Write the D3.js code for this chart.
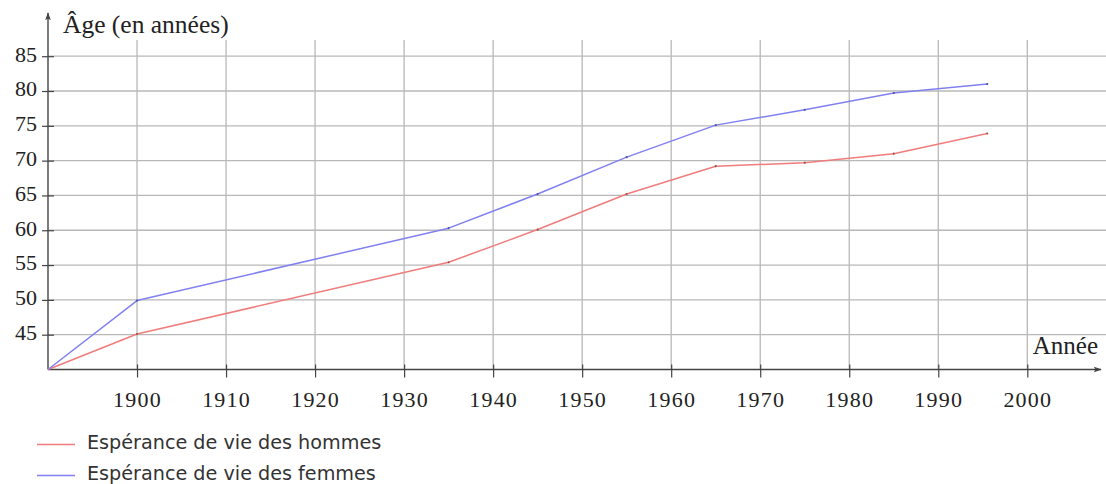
<!DOCTYPE html>
<html>
<head>
<meta charset="utf-8">
<script src="https://cdn.jsdelivr.net/npm/d3@7"></script>
<style>
  html, body { margin: 0; padding: 0; background: #fff; }
  svg { display: block; }
</style>
</head>
<body>
<svg id="chart" width="1106" height="484"></svg>
<script>
// ---- data ----
const years      = [1890, 1900, 1935, 1945, 1955, 1965, 1975, 1985, 1995.5];
const menLife    = [40, 45.1, 55.4, 60.1, 65.2, 69.2, 69.7, 71.0, 73.9];
const womenLife  = [40, 49.9, 60.3, 65.2, 70.5, 75.1, 77.3, 79.7, 81.0];
const xTickYears = [1900, 1910, 1920, 1930, 1940, 1950, 1960, 1970, 1980, 1990, 2000];
const yTickAges  = [45, 50, 55, 60, 65, 70, 75, 80, 85];
const seriesNames = ["Espérance de vie des hommes", "Espérance de vie des femmes"];
const seriesColors = ["#f07c7c", "#8080f2"];

const svg = d3.select("#chart");
const x = d3.scaleLinear().domain([1890, 2000]).range([48, 1027.3]);
const y = d3.scaleLinear().domain([40, 85]).range([369.5, 56.2]);

const gridColor = "#b8b8b8";
const axisColor = "#444";

// horizontal gridlines
svg.append("g").selectAll("line").data(yTickAges).join("line")
  .attr("x1", x(1890)).attr("x2", 1106)
  .attr("y1", d => y(d)).attr("y2", d => y(d))
  .attr("stroke", gridColor).attr("stroke-width", 1.3);

// vertical gridlines
svg.append("g").selectAll("line").data(xTickYears).join("line")
  .attr("x1", d => x(d)).attr("x2", d => x(d))
  .attr("y1", 40).attr("y2", y(40))
  .attr("stroke", gridColor).attr("stroke-width", 1.3);

// y axis with ticks
const yAxis = d3.axisLeft(y).tickValues(yTickAges).tickSize(6).tickSizeOuter(0).tickPadding(5);
const gy = svg.append("g").attr("transform", `translate(${x(1890)},0)`).call(yAxis);
gy.select(".domain").remove();
gy.selectAll(".tick line").attr("stroke", axisColor).attr("stroke-width", 1.2).attr("x2", 6).attr("x1", -6);
gy.selectAll(".tick text")
  .attr("x", -11)
  .attr("dy", "0.22em")
  .style("font-family", "'Liberation Serif', 'DejaVu Serif', serif")
  .style("font-size", "22px")
  .attr("fill", "#222");

// x axis with ticks
const xAxis = d3.axisBottom(x).tickValues(xTickYears).tickFormat(d3.format("d")).tickSize(8).tickSizeOuter(0).tickPadding(10);
const gx = svg.append("g").attr("transform", `translate(0,${y(40)})`).call(xAxis);
gx.select(".domain").remove();
gx.selectAll(".tick line").attr("stroke", axisColor).attr("stroke-width", 1.2).attr("y1", -5).attr("y2", 8);
gx.selectAll(".tick text")
  .attr("y", 22)
  .style("font-family", "'Liberation Serif', 'DejaVu Serif', serif")
  .style("font-size", "22px")
  .style("letter-spacing", "1.2px")
  .attr("fill", "#222");

// axis lines with arrows
const defs = svg.append("defs");
defs.append("marker").attr("id", "arrow").attr("viewBox", "0 0 10 10")
  .attr("refX", 9).attr("refY", 5).attr("markerWidth", 8).attr("markerHeight", 8)
  .attr("markerUnits", "userSpaceOnUse").attr("orient", "auto")
  .append("path").attr("d", "M0,1.5 L10,5 L0,8.5 L2,5 Z").attr("fill", axisColor);

svg.append("line")
  .attr("x1", x(1890)).attr("x2", x(1890)).attr("y1", y(40)).attr("y2", 13)
  .attr("stroke", axisColor).attr("stroke-width", 1.4).attr("marker-end", "url(#arrow)");
svg.append("line")
  .attr("x1", x(1890)).attr("x2", 1101).attr("y1", y(40)).attr("y2", y(40))
  .attr("stroke", axisColor).attr("stroke-width", 1.4).attr("marker-end", "url(#arrow)");

// axis titles
svg.append("text").attr("x", 63).attr("y", 33)
  .style("font-family", "'Liberation Serif', 'DejaVu Serif', serif")
  .style("font-size", "25.5px").attr("fill", "#222")
  .text("Âge (en années)");
svg.append("text").attr("x", 1098).attr("y", 354).attr("text-anchor", "end")
  .style("font-family", "'Liberation Serif', 'DejaVu Serif', serif")
  .style("font-size", "25px").attr("fill", "#222")
  .text("Année");

// series lines
const series = [menLife, womenLife];
const line = d3.line().x((d, i) => x(years[i])).y(d => y(d));
series.forEach((vals, k) => {
  svg.append("path").datum(vals)
    .attr("d", line)
    .attr("fill", "none")
    .attr("stroke", seriesColors[k])
    .attr("stroke-width", 1.5)
    .attr("stroke-linejoin", "round");
  svg.append("g").selectAll("circle").data(vals.slice(1)).join("circle")
    .attr("cx", (d, i) => x(years[i + 1]))
    .attr("cy", d => y(d))
    .attr("r", 1.1)
    .attr("fill", d3.color(seriesColors[k]).darker(1.2));
});

// legend
const legend = svg.append("g");
seriesNames.forEach((name, k) => {
  const ly = 444.5 + k * 31;
  legend.append("line").attr("x1", 37).attr("x2", 75).attr("y1", ly).attr("y2", ly)
    .attr("stroke", seriesColors[k]).attr("stroke-width", 1.4);
  legend.append("text").attr("x", 87).attr("y", 448.5 + k * 31.5)
    .style("font-family", "'DejaVu Sans', sans-serif")
    .style("font-size", "19.2px").attr("fill", "#333")
    .text(name);
});
</script>
</body>
</html>
